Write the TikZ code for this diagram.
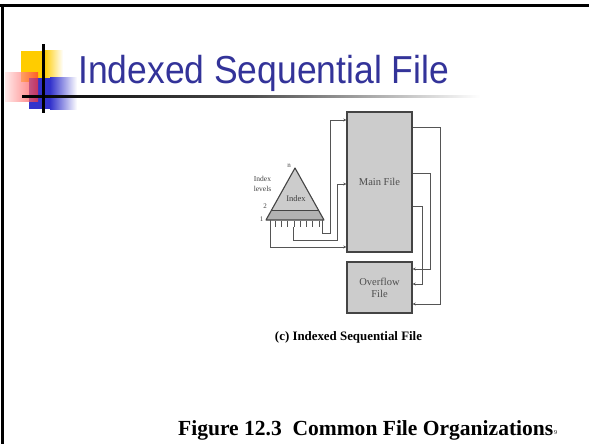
\documentclass[tikz,border=0pt]{standalone}
\usepackage{fontspec}
\setmainfont{Liberation Serif}
\newfontfamily\titlefont{Liberation Sans}
\usetikzlibrary{arrows.meta,calc}
\definecolor{titleblue}{HTML}{333399}
\definecolor{logoyellow}{HTML}{FFCC00}
\definecolor{logored}{HTML}{FF3333}
\definecolor{logoblue}{HTML}{3333CC}
\definecolor{boxfill}{HTML}{CCCCCC}
\definecolor{boxline}{HTML}{444444}
\definecolor{wire}{HTML}{555555}
\tikzset{
  filebox/.style={draw=boxline, line width=1.4pt, fill=boxfill, inner sep=0pt, align=center,
    font=\fontsize{10.5}{12}\selectfont, text=black!70},
  wireline/.style={draw=wire, line width=1pt},
  wirearrow/.style={wireline, -{Stealth[length=3pt,width=3pt]}},
  smalllabel/.style={font=\fontsize{7}{7.5}\selectfont, text=black!75, inner sep=0pt, align=center},
}
\begin{document}
\begin{tikzpicture}[x=1pt,y=-1pt]
\useasboundingbox (0,0) rectangle (589,444);
% slide frame
\draw[line width=2.6pt, black] (0,5.3) -- (589,5.3);
\draw[line width=2.6pt, black] (2.4,4) -- (2.4,444);
% logo
\fill[logoyellow] (21,51) rectangle (44,82);
\shade[left color=logoyellow, right color=white] (44,51) rectangle (63,82);
\fill[logoblue] (29,78) rectangle (50,109);
\shade[left color=logoblue, right color=white] (50,78) rectangle (77,109);
\shade[left color=logored!15, right color=logored, opacity=0.7] (5,73) rectangle (38,101);
\shade[left color=black, right color=white, middle color=black!70] (22,95) rectangle (480,97.2);
\fill[black] (41.8,44) rectangle (44.6,113);
% title
\node[anchor=base west, inner sep=0pt, text=titleblue] (title) at (78,83)
  {\scalebox{0.91}[1]{\titlefont\fontsize{39}{39}\selectfont Indexed Sequential File}};
% files
\node[filebox, minimum width=65pt, minimum height=140pt] (main) at (379.5,182) {Main File};
\node[filebox, minimum width=65pt, minimum height=51pt] (ovf) at (379.5,287.5) {Overflow\\File};
% index triangle
\fill[boxfill] (295,168) -- (266,220) -- (324,220) -- cycle;
\fill[black!30] (271.6,210) -- (266,220) -- (324,220) -- (318.4,210) -- cycle;
\draw[boxline, line width=1.1pt, line join=round] (295,168) -- (266,220) -- (324,220) -- cycle;
\draw[boxline, line width=1pt] (271.6,210) -- (318.4,210);
\node[smalllabel, font=\fontsize{8.5}{9}\selectfont] (idx) at (296,199) {Index};
\node[smalllabel] (ln) at (289,166) {n};
\node[smalllabel] (l2) at (265,206.5) {2};
\node[smalllabel] (l1) at (261.5,219) {1};
\node[smalllabel, font=\fontsize{7.5}{10}\selectfont] (lev) at (262.5,184) {Index\\levels};
\foreach \i in {0,...,7} {
  \draw[wireline, line width=0.7pt] ({275+\i*6.3},221) -- ({275+\i*6.3},226.5);
}
\coordinate (ta) at (322,220);
\coordinate (tb) at (293,226.5);
\coordinate (tc) at (270,220);
% index to main file
\draw[wirearrow] (ta) -- (322,233) -- (330,233) -- (330,120) -- (main.west |- 330,120);
\draw[wirearrow] (tb) -- (293,240) -- (337,240) -- (337,184) -- (main.west |- 337,184);
\draw[wirearrow] (tc) -- (270,247) -- (main.west |- 270,247);
% main file to overflow
\draw[wirearrow] (main.east |- 440,127) -- (440,127) -- (440,304) -- (ovf.east |- 440,304);
\draw[wirearrow] (main.east |- 430,173) -- (430,173) -- (430,269) -- (ovf.east |- 430,269);
\draw[wirearrow] (main.east |- 422,206) -- (422,206) -- (422,284) -- (ovf.east |- 422,284);
% captions
\node[inner sep=0pt] (cap) at (348.5,337) {\resizebox{147pt}{!}{\bfseries (c) Indexed Sequential File}};
\node[inner sep=0pt, anchor=west] (fig) at (178,430) {\resizebox{375pt}{!}{\bfseries Figure 12.3\ \ Common File Organizations}};
\node[inner sep=0pt, font=\fontsize{6}{6}\selectfont] (num) at (555.5,433) {9};
\end{tikzpicture}
\end{document}
